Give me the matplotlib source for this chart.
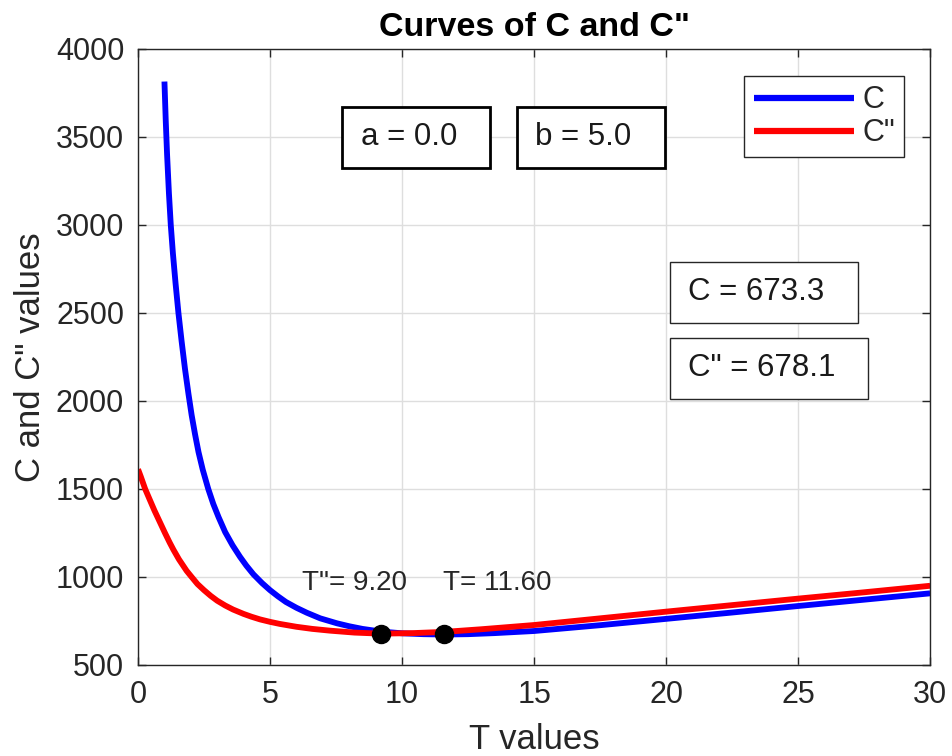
import matplotlib
matplotlib.use('Agg')
import matplotlib.pyplot as plt
from matplotlib.patches import Rectangle

# values
T_c = [1.00, 1.05, 1.10, 1.17, 1.24, 1.32, 1.42, 1.53, 1.65, 1.78, 1.91, 2.03,
       2.16, 2.29, 2.45, 2.66, 2.85, 3.05, 3.30, 3.58, 3.86, 4.10, 4.37, 4.70,
       5.00, 5.30, 5.60, 6.00, 6.39, 6.90, 7.53, 8.00, 8.50, 9.20, 10.0, 10.8,
       11.6, 12.5, 13.5, 15.0, 17.5, 20.0, 22.5, 25.0, 27.5, 30.0]
C_vals = [3815, 3590, 3400, 3180, 3000, 2840, 2670, 2500, 2340, 2180, 2040, 1920,
          1810, 1710, 1610, 1500, 1415, 1340, 1255, 1180, 1115, 1065, 1015, 965,
          925, 890, 858, 825, 797, 765, 737, 720, 705, 690, 680, 675,
          673, 675, 681, 693, 726, 762, 798, 835, 871, 907]

T_c2 = [0.00, 0.10, 0.27, 0.45, 0.62, 0.77, 1.02, 1.20, 1.34, 1.55, 1.84, 2.03,
        2.25, 2.50, 2.75, 3.00, 3.30, 3.60, 4.00, 4.30, 4.62, 5.00, 5.38, 6.00,
        6.60, 7.27, 8.20, 9.20, 10.4, 11.6, 13.0, 15.0, 17.5, 20.0, 22.5, 25.0,
        27.5, 30.0]
C2_vals = [1612, 1572, 1500, 1437, 1378, 1330, 1250, 1195, 1155, 1100, 1035, 1000,
           960, 925, 893, 865, 838, 815, 790, 774, 759, 745, 733, 717,
           705, 695, 684, 678, 681, 688, 703, 727, 765, 803, 840, 877,
           913, 950]

a_val = 0.0
b_val = 5.0
T_opt = 11.60
C_opt = 673.3
T2_opt = 9.20
C2_opt = 678.1

x_ticks = [0, 5, 10, 15, 20, 25, 30]
y_ticks = [500, 1000, 1500, 2000, 2500, 3000, 3500, 4000]

plt.rcParams['font.family'] = ['Liberation Sans', 'DejaVu Sans']
dark = '#262626'

fig = plt.figure(figsize=(9.52, 7.56), dpi=100)
ax = fig.add_axes([0.145, 0.1204, 0.832, 0.8148])

ax.plot(T_c, C_vals, color='blue', lw=4.2, label='C', solid_capstyle='butt')
ax.plot(T_c2, C2_vals, color='red', lw=4.2, label='C"', solid_capstyle='butt')
ax.plot([T2_opt, T_opt], [C2_opt, C_opt], 'o', color='black', ms=13, zorder=5)

ax.text(6.2, 965, 'T"= %.2f' % T2_opt, fontsize=20, va='center', color=dark)
ax.text(11.55, 965, 'T= %.2f' % T_opt, fontsize=20, va='center', color=dark)

ax.set_xlim(0, 30)
ax.set_ylim(500, 4000)
ax.set_xticks(x_ticks)
ax.set_yticks(y_ticks)
ax.grid(True, color='#dedede', lw=1)
ax.set_axisbelow(True)
ax.tick_params(direction='in', top=True, right=True, length=6, width=1,
               labelsize=22, colors=dark)
ax.tick_params(axis='y', pad=10)
ax.tick_params(axis='x', pad=11)
for sp in ax.spines.values():
    sp.set_color(dark)
    sp.set_linewidth(1)

ax.set_title('Curves of C and C"', fontsize=24.5, fontweight='bold', pad=9)
ax.set_xlabel('T values', fontsize=25, color=dark, labelpad=9)
ax.set_ylabel('C and C" values', fontsize=25, color=dark, labelpad=6)

# boxes with the parameters and minimum costs
boxes = [
    (0.2576, 0.8068, 0.1868, 0.0990, 'a = %.1f' % a_val, 0.2816, 0.857, 'black', 2.0),
    (0.4785, 0.8068, 0.1869, 0.0990, 'b = %.1f' % b_val, 0.5013, 0.857, 'black', 2.0),
    (0.6717, 0.5552, 0.2374, 0.0990, 'C = %.1f' % C_opt, 0.6944, 0.6055, dark, 1.0),
    (0.6717, 0.4318, 0.2500, 0.0990, 'C" = %.1f' % C2_opt, 0.6944, 0.4821, dark, 1.0),
]
for x0, y0, w, h, txt, tx, ty, ec, lw in boxes:
    ax.add_patch(Rectangle((x0, y0), w, h, transform=ax.transAxes, fill=True,
                           facecolor='white', edgecolor=ec, lw=lw, zorder=6))
    ax.text(tx, ty, txt, transform=ax.transAxes, fontsize=22.5, va='center',
            color='#1a1a1a', zorder=7)

leg = ax.legend(loc='upper right', bbox_to_anchor=(0.967, 0.956), fontsize=22,
                handlelength=3.3, handletextpad=0.25, borderpad=0.3,
                labelspacing=0.1, fancybox=False, framealpha=1,
                edgecolor=dark, borderaxespad=0)
leg.get_frame().set_linewidth(1)
for line in leg.get_lines():
    line.set_linewidth(4.5)
for t in leg.get_texts():
    t.set_color(dark)

fig.savefig('out.png', dpi=100)
